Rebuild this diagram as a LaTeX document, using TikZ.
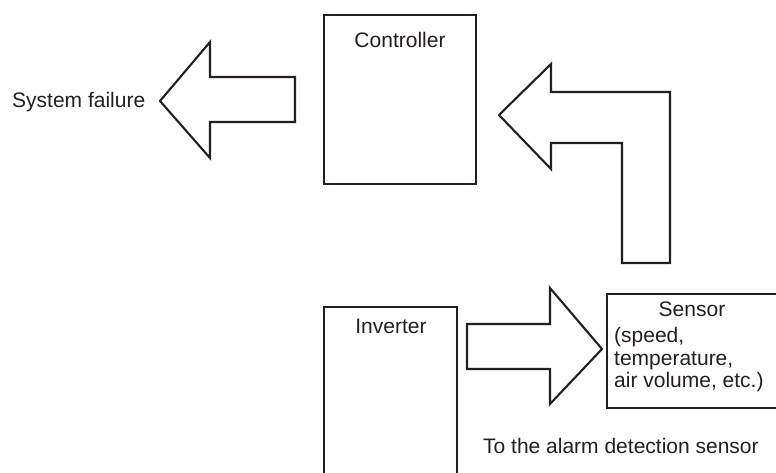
\documentclass[tikz,border=0pt]{standalone}
\usepackage{fontspec}
\setmainfont{Liberation Sans}
\definecolor{ink}{HTML}{231F20}
\tikzset{
  shp/.style={draw=ink, line width=2.1pt, line join=miter, fill=white},
  lbl/.style={text=ink, inner sep=0pt, font=\fontsize{21}{22}\selectfont}
}
\begin{document}
\begin{tikzpicture}[x=1pt,y=-1pt]
\useasboundingbox (0,0) rectangle (776,473);
% Controller box
\draw[shp] (324,15) rectangle (476,184);
\node[lbl, anchor=base] (ctrl) at (400,48) {Controller};
% Inverter box (open at the bottom edge)
\draw[shp] (324,473) -- (324,307) -- (457,307) -- (457,473);
\node[lbl, anchor=base] (inv) at (391,333) {Inverter};
% Sensor box (open at the right edge)
\draw[shp] (776,294) -- (607,294) -- (607,408) -- (776,408);
\node[lbl, anchor=base] (sens) at (692,316) {Sensor};
\node[lbl, anchor=base west] (s1) at (614,342) {(speed,};
\node[lbl, anchor=base west] (s2) at (614,365) {temperature,};
\node[lbl, anchor=base west] (s3) at (614,387) {air volume, etc.)};
% Left arrow to system failure
\draw[shp] (295,77) -- (210,77) -- (210,42) -- (160,101) -- (210,158) -- (210,122) -- (295,122) -- cycle;
\node[lbl, anchor=base west] (fail) at (12,108) {System failure};
% L-shaped arrow towards controller
\draw[shp] (670,263) -- (670,92) -- (551,92) -- (551,64) -- (499,115) -- (551,169) -- (551,143) -- (622,143) -- (622,263) -- cycle;
% Arrow from inverter to sensor
\draw[shp] (467,324) -- (550,324) -- (550,288) -- (602,349) -- (550,404) -- (550,369) -- (467,369) -- cycle;
\node[lbl, anchor=base west] (alarm) at (483,453) {To the alarm detection sensor};
\end{tikzpicture}
\end{document}
